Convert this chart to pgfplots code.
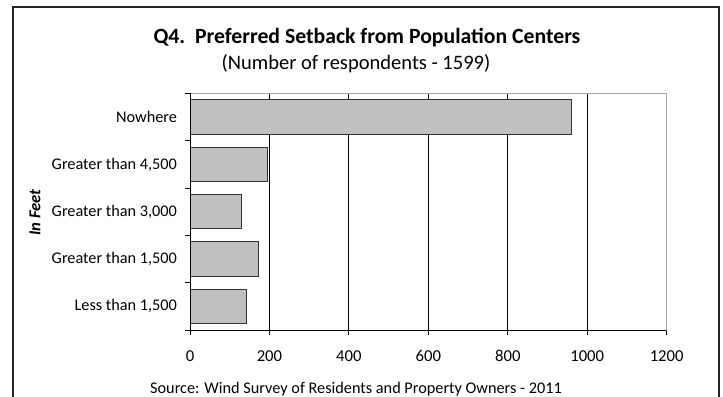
\documentclass[border=0pt]{standalone}
\usepackage{pgfplots}
\pgfplotsset{compat=1.18}
\usepackage{fontspec}
\setmainfont{Carlito}
\definecolor{barfill}{HTML}{C0C0C0}
\definecolor{plotframe}{HTML}{A6A6A6}

\begin{document}
\begin{tikzpicture}[x=0.75pt,y=-0.75pt]
\useasboundingbox (0,0) rectangle (723,396);
% chart area frame (bottom edge cut off in the reference)
\draw[line width=1.3pt,black!85] (12.7,420) -- (12.7,6.7) -- (719.3,6.7) -- (719.3,420);

\node[font=\bfseries\fontsize{16.3}{18}\selectfont,anchor=base] at (367,43)
  {Q4.\ \ Preferred Setback from Population Centers};
\node[font=\fontsize{15.4}{17}\selectfont,anchor=base] at (356,69)
  {(Number of respondents - 1599)};
\node[font=\bfseries\itshape\fontsize{12.5}{14}\selectfont,rotate=90] at (35,212.5) {In Feet};
\node[font=\fontsize{12.2}{14}\selectfont,anchor=base] at (356,393)
  {Source: Wind Survey of Residents and Property Owners - 2011};

\begin{axis}[
    at={(142.5pt,-247.5pt)}, anchor=south west,
    scale only axis, width=357.5pt, height=177.4pt,
    xbar, bar width=25.7pt,
    xmin=0, xmax=1200, ymin=-0.5, ymax=4.5,
    xtick={0,200,...,1200},
    ytick={0,...,4},
    yticklabels={{Less than 1,500},{Greater than 1,500},{Greater than 3,000},{Greater than 4,500},{Nowhere}},
    minor ytick={-0.5,0.5,...,4.5},
    xtick pos=bottom, ytick pos=left,
    tick align=outside, major tick length=3.75pt, minor tick length=3.75pt,
    major y tick style={draw=none},
    tick style={black, line width=0.75pt},
    xmajorgrids, grid style={black, line width=0.75pt},
    axis line style={plotframe, line width=0.75pt},
    /pgf/number format/assume math mode=true,
    /pgf/number format/set thousands separator={},
    xticklabel style={font=\fontsize{12.5}{14}\selectfont, anchor=base, yshift=-20pt},
    yticklabel style={font=\fontsize{12.2}{14}\selectfont, xshift=-2.5pt},
  ]
\addplot[fill=barfill, draw=black!80, line width=0.75pt] coordinates {
    (142,0)
    (172,1)
    (130,2)
    (195,3)
    (960,4)
};
\draw[black, line width=0.75pt] (rel axis cs:0,1) -- (rel axis cs:0,0) -- (rel axis cs:1,0);
\end{axis}
\end{tikzpicture}
\end{document}
